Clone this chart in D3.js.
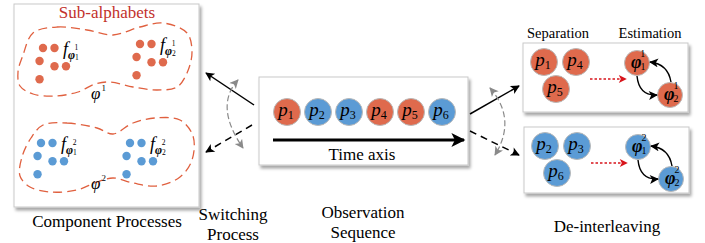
<!DOCTYPE html>
<html>
<head>
<meta charset="utf-8">
<script src="https://cdn.jsdelivr.net/npm/d3@7"></script>
<style>
  body { margin: 0; background: #fff; }
  svg { display: block; }
</style>
</head>
<body>
<svg id="fig" width="705" height="243" font-family="'Liberation Serif', 'Times New Roman', Times, 'DejaVu Serif', serif"></svg>
<script>
// pulses on the time axis and which process each one came from
var pulses = ["1", "2", "3", "4", "5", "6"];
var pulseProc = [1, 2, 2, 1, 1, 2];
// sub-alphabets: two sub-processes per component process
var procs = [1, 2];
var subs = [1, 2];
// dot pattern of one cluster (column, row)
var dotCol = [0, 1, -0.3, 1, 2, -0.3];
var dotRow = [0, 0, 1, 1.4, 1.4, 2.4];
var captions = ["Component Processes", "Switching|Process", "Observation|Sequence", "De-interleaving"];

var RED = "#df6a4d", BLUE = "#5b9bd5", TITLE = "#c2312c";
var colour = function(p) { return p === 1 ? RED : BLUE; };

var svg = d3.select("#fig");
var defs = svg.append("defs");

var f = defs.append("filter").attr("id", "shadow").attr("x", "-5%").attr("y", "-5%")
  .attr("width", "115%").attr("height", "120%");
f.append("feDropShadow").attr("dx", 2).attr("dy", 3).attr("stdDeviation", 1.6)
  .attr("flood-color", "#000").attr("flood-opacity", 0.35);

function marker(id, col, w, h) {
  defs.append("marker").attr("id", id).attr("markerUnits", "userSpaceOnUse")
    .attr("viewBox", "0 0 10 10").attr("refX", 9).attr("refY", 5)
    .attr("markerWidth", w).attr("markerHeight", h).attr("orient", "auto-start-reverse")
    .append("path").attr("d", "M0,0L10,5L0,10L2.5,5z").attr("fill", col);
}
marker("blk", "#000", 11, 9);
marker("gry", "#8a8a8a", 11, 9);
marker("red", "#d8141b", 10, 8);
marker("big", "#000", 22, 14);

function box(x, y, w, h) {
  svg.append("rect").attr("x", x).attr("y", y).attr("width", w).attr("height", h)
    .attr("fill", "#fff").attr("stroke", "#c9c9c9").attr("stroke-width", 1)
    .attr("filter", "url(#shadow)");
}

// ---------- left box: component processes ----------
box(14, 4, 185, 203);
svg.append("text").attr("x", 107).attr("y", 18).attr("text-anchor", "middle")
  .attr("font-size", 17).attr("fill", TITLE).text("Sub-alphabets");

var blobs = [
  [[33,33],[57,27],[87,30],[113,35],[140,27],[163,23],[187,33],[192,52],[187,73],[177,87],
   [157,90],[133,87],[110,82],[95,84],[78,92],[55,96],[33,94],[20,86],[18,72],[23,55]],
  [[43,125],[67,123],[97,128],[113,134],[133,123],[155,118],[180,120],[193,136],[192,160],[180,177],
   [157,186],[133,183],[113,178],[97,182],[77,190],[50,192],[30,187],[20,176],[22,157],[31,138]]
];
var blobLine = d3.line().curve(d3.curveCatmullRomClosed.alpha(0.5));

var cx = d3.scaleLinear().domain([0, 1]).range([0, 11.5]);
var cy = d3.scaleLinear().domain([0, 1]).range([0, 13]);
var clusterOrigin = { "1-1": [43, 48], "1-2": [140, 44], "2-1": [41, 143], "2-2": [130, 143] };
var blobLabelY = { 1: 99, 2: 189 };

procs.forEach(function(p, pi) {
  svg.append("path").attr("d", blobLine(blobs[pi])).attr("fill", "none")
    .attr("stroke", "#e0603f").attr("stroke-width", 1.3).attr("stroke-dasharray", "9,5");

  var t = svg.append("text").attr("x", 91).attr("y", blobLabelY[p]).attr("font-size", 17);
  t.append("tspan").attr("font-style", "italic").text("\u03C6");
  t.append("tspan").attr("font-size", 9).attr("dy", -8).attr("dx", 1).text(p);

  subs.forEach(function(s) {
    var o = clusterOrigin[p + "-" + s];
    svg.selectAll(null).data(dotCol).enter().append("circle")
      .attr("cx", function(d) { return o[0] + cx(d); })
      .attr("cy", function(d, i) { return o[1] + cy(dotRow[i]); })
      .attr("r", 4.2).attr("fill", colour(p));

    var lx = o[0] + cx(2) - 3, ly = o[1] + 7;
    var ft = svg.append("text").attr("x", lx).attr("y", ly).attr("font-size", 18);
    ft.append("tspan").attr("font-style", "italic").text("f");
    ft.append("tspan").attr("font-style", "italic").attr("font-weight", "bold")
      .attr("font-size", 12).attr("dy", 4).attr("dx", 0).text("\u03C6");
    ft.append("tspan").attr("font-size", 7.5).attr("dy", 1).text(s);
    ft.append("tspan").attr("font-size", 7.5).attr("dy", -10).attr("dx", -4).text(p);
  });
});

// ---------- middle box: observation sequence ----------
box(259, 77, 209, 88);
var px = d3.scalePoint().domain(pulses).range([287, 442]);

function pulse(x, y, name, p) {
  svg.append("circle").attr("cx", x).attr("cy", y).attr("r", 13.5)
    .attr("fill", colour(p)).attr("stroke", "#b9b9b9").attr("stroke-width", 1);
  var t = svg.append("text").attr("x", x - 1).attr("y", y + 4).attr("text-anchor", "middle")
    .attr("font-size", 19);
  t.append("tspan").attr("font-style", "italic").text("p");
  t.append("tspan").attr("font-size", 12).attr("dy", 3).text(name);
}
pulses.forEach(function(d, i) { pulse(px(d), 112, d, pulseProc[i]); });

svg.append("line").attr("x1", 273).attr("y1", 140).attr("x2", 464).attr("y2", 140)
  .attr("stroke", "#000").attr("stroke-width", 3.2).attr("marker-end", "url(#big)");
svg.append("text").attr("x", 362).attr("y", 160).attr("text-anchor", "middle")
  .attr("font-size", 17).text("Time axis");

// ---------- switching arrows ----------
function arrow(x1, y1, x2, y2, dashed) {
  svg.append("line").attr("x1", x1).attr("y1", y1).attr("x2", x2).attr("y2", y2)
    .attr("stroke", "#000").attr("stroke-width", 1.5)
    .attr("stroke-dasharray", dashed ? "7,5" : null).attr("marker-end", "url(#blk)");
}
arrow(254, 105, 206, 73, false);
arrow(252, 125, 206, 152, true);
arrow(470, 114, 519, 86, false);
arrow(470, 131, 519, 155, true);

function swing(d) {
  svg.append("path").attr("d", d).attr("fill", "none").attr("stroke", "#8a8a8a")
    .attr("stroke-width", 1.2).attr("stroke-dasharray", "6,3")
    .attr("marker-start", "url(#gry)").attr("marker-end", "url(#gry)");
}
swing("M238,80Q214,106 243,148");
swing("M490,88Q517,119 495,155");

// ---------- right boxes: de-interleaving ----------
var sepBoxes = [[523, 43], [524, 127]];
var sepSlots = [[21, 19], [53, 19], [33, 46]];
var estSlots = [[114, 20], [147, 52]];

procs.forEach(function(p, pi) {
  var b = sepBoxes[pi];
  box(b[0], b[1], 165, pi === 0 ? 69 : 66);
  var mine = pulses.filter(function(d, i) { return pulseProc[i] === p; });
  mine.forEach(function(d, i) { pulse(b[0] + sepSlots[i][0], b[1] + sepSlots[i][1], d, p); });

  svg.append("line").attr("x1", b[0] + 67).attr("y1", b[1] + 36)
    .attr("x2", b[0] + 103).attr("y2", b[1] + 36)
    .attr("stroke", "#d8141b").attr("stroke-width", 1.5).attr("stroke-dasharray", "2.5,2")
    .attr("marker-end", "url(#red)");

  subs.forEach(function(s, si) {
    var ex = b[0] + estSlots[si][0], ey = b[1] + estSlots[si][1];
    svg.append("circle").attr("cx", ex).attr("cy", ey).attr("r", 12.5)
      .attr("fill", colour(p)).attr("stroke", "#b9b9b9").attr("stroke-width", 1);
    var t = svg.append("text").attr("x", ex - 6).attr("y", ey + 5).attr("font-size", 18);
    t.append("tspan").attr("font-style", "italic").attr("font-weight", "bold").text("\u03C6");
    t.append("tspan").attr("font-size", 10).attr("dy", 2).attr("dx", -1).text(s);
    t.append("tspan").attr("font-size", 10).attr("dy", -13).attr("dx", -5).text(p);
  });

  var a = [b[0] + estSlots[0][0], b[1] + estSlots[0][1]];
  var c = [b[0] + estSlots[1][0], b[1] + estSlots[1][1]];
  svg.append("path").attr("d", "M" + (a[0]) + "," + (a[1] + 13) + "Q" + (a[0] + 2) + "," + (c[1] + 1) + " " + (c[0] - 13) + "," + (c[1]))
    .attr("fill", "none").attr("stroke", "#000").attr("stroke-width", 1.4).attr("marker-end", "url(#blk)");
  svg.append("path").attr("d", "M" + (c[0] + 1) + "," + (c[1] - 13) + "Q" + (c[0] - 2) + "," + (a[1] + 1) + " " + (a[0] + 13) + "," + (a[1] - 1))
    .attr("fill", "none").attr("stroke", "#000").attr("stroke-width", 1.4).attr("marker-end", "url(#blk)");
});

svg.append("text").attr("x", 558).attr("y", 38).attr("text-anchor", "middle")
  .attr("font-size", 14.5).text("Separation");
svg.append("text").attr("x", 650).attr("y", 38).attr("text-anchor", "middle")
  .attr("font-size", 14.5).text("Estimation");

// ---------- captions ----------
var capPos = [[107, 227], [233, 220], [363, 218], [607, 232]];
captions.forEach(function(c, i) {
  var t = svg.append("text").attr("x", capPos[i][0]).attr("y", capPos[i][1])
    .attr("text-anchor", "middle").attr("font-size", 17);
  c.split("|").forEach(function(line, li) {
    t.append("tspan").attr("x", capPos[i][0]).attr("dy", li ? 20 : 0).text(line);
  });
});
</script>
</body>
</html>
